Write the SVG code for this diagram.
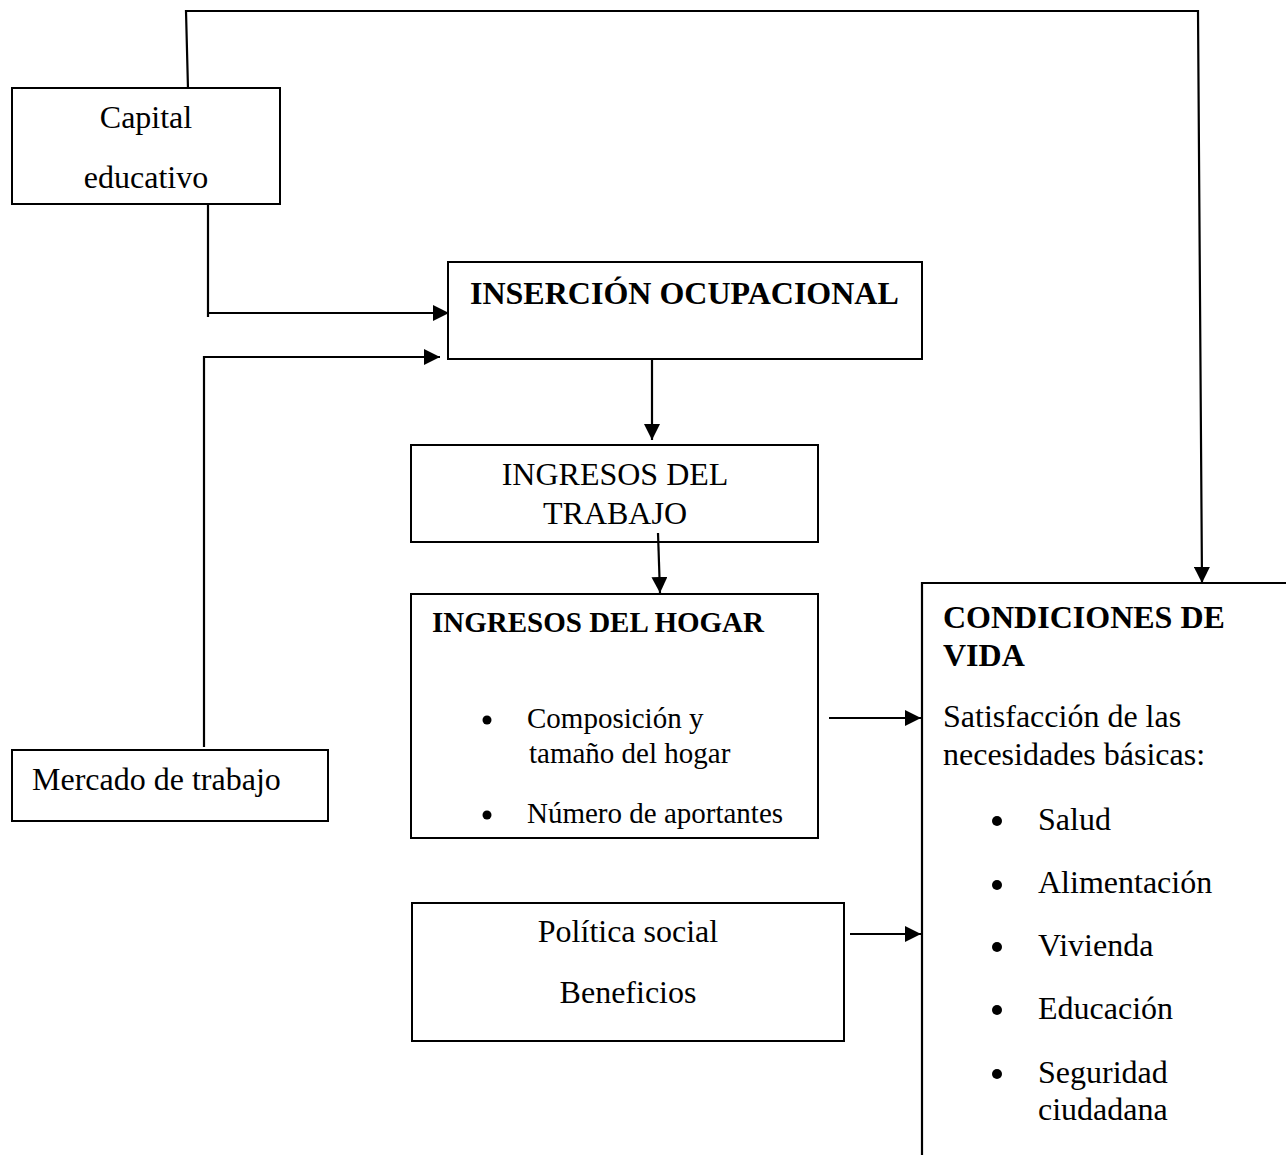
<svg xmlns="http://www.w3.org/2000/svg" width="1286" height="1155" viewBox="0 0 1286 1155">
<style>
  .box { fill: #ffffff; stroke: #000000; stroke-width: 2; }
  .edge { fill: none; stroke: #000000; stroke-width: 2.2; }
  .t { font-family: "Liberation Serif", "Times New Roman", serif; font-size: 32px; fill: #000000; }
  .s { font-size: 29px; }
  .b { font-weight: bold; }
  .mid { text-anchor: middle; }
  .dot { fill: #000000; }
</style>
<defs>
  <marker id="arrow" viewBox="0 0 16 16" refX="16" refY="8" markerWidth="16" markerHeight="16" markerUnits="userSpaceOnUse" orient="auto">
    <path d="M0,0 L16,8 L0,16 z" fill="#000000"/>
  </marker>
</defs>
<rect width="1286" height="1155" fill="#ffffff"/>

<g id="capital-educativo">
  <rect class="box" x="12" y="88" width="268" height="116"/>
  <text class="t mid" x="146" y="128">Capital</text>
  <text class="t mid" x="146" y="188">educativo</text>
</g>

<g id="insercion-ocupacional">
  <rect class="box" x="448" y="262" width="474" height="97"/>
  <text class="t b" x="470" y="304">INSERCIÓN OCUPACIONAL</text>
</g>

<g id="ingresos-trabajo">
  <rect class="box" x="411" y="445" width="407" height="97"/>
  <text class="t mid" x="615" y="485">INGRESOS DEL</text>
  <text class="t mid" x="615" y="524">TRABAJO</text>
</g>

<g id="ingresos-hogar">
  <rect class="box" x="411" y="594" width="407" height="244"/>
  <text class="t s b" x="432" y="632">INGRESOS DEL HOGAR</text>
  <circle class="dot" cx="487" cy="720" r="4.5"/>
  <text class="t s" x="527" y="728">Composición y</text>
  <text class="t s" x="529" y="763">tamaño del hogar</text>
  <circle class="dot" cx="487" cy="815" r="4.5"/>
  <text class="t s" x="527" y="823">Número de aportantes</text>
</g>

<g id="mercado-trabajo">
  <rect class="box" x="12" y="750" width="316" height="71"/>
  <text class="t" x="32" y="790">Mercado de trabajo</text>
</g>

<g id="politica-social">
  <rect class="box" x="412" y="903" width="432" height="138"/>
  <text class="t mid" x="628" y="942">Política social</text>
  <text class="t mid" x="628" y="1003">Beneficios</text>
</g>

<g id="condiciones-vida">
  <path class="edge" d="M1286,583 L922,583 L922,1155"/>
  <text class="t b" x="943" y="628">CONDICIONES DE</text>
  <text class="t b" x="943" y="666">VIDA</text>
  <text class="t" x="943" y="727">Satisfacción de las</text>
  <text class="t" x="943" y="765">necesidades básicas:</text>
  <circle class="dot" cx="997" cy="821" r="5"/>
  <text class="t" x="1038" y="830">Salud</text>
  <circle class="dot" cx="997" cy="885" r="5"/>
  <text class="t" x="1038" y="893">Alimentación</text>
  <circle class="dot" cx="997" cy="947" r="5"/>
  <text class="t" x="1038" y="956">Vivienda</text>
  <circle class="dot" cx="997" cy="1010" r="5"/>
  <text class="t" x="1038" y="1019">Educación</text>
  <circle class="dot" cx="997" cy="1074" r="5"/>
  <text class="t" x="1038" y="1083">Seguridad</text>
  <text class="t" x="1038" y="1120">ciudadana</text>
</g>

<g id="connectors">
  <path class="edge" d="M188,89 L186,11 L1198,11 L1202,583" marker-end="url(#arrow)"/>
  <path class="edge" d="M208,204 L208,317 M208,313 L449,313" marker-end="url(#arrow)"/>
  <path class="edge" d="M204,747 L204,357 L440,357" marker-end="url(#arrow)"/>
  <path class="edge" d="M652,359 L652,440" marker-end="url(#arrow)"/>
  <path class="edge" d="M658,533 L660,593" marker-end="url(#arrow)"/>
  <path class="edge" d="M829,718 L921,718" marker-end="url(#arrow)"/>
  <path class="edge" d="M850,934 L921,934" marker-end="url(#arrow)"/>
</g>
</svg>
